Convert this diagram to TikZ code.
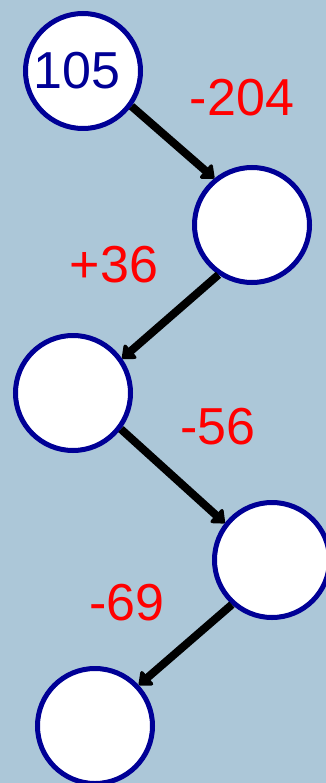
\documentclass[tikz,border=0pt]{standalone}
\usepackage{fontspec}
\setmainfont{Liberation Sans}
\usetikzlibrary{arrows.meta}
\definecolor{navyring}{RGB}{0,0,150}
\definecolor{dropbg}{RGB}{172,199,216}

\begin{document}
\begin{tikzpicture}[x=1pt,y=-1pt,
    ring/.style={circle,draw=navyring,line width=5pt,fill=white,minimum size=115pt,inner sep=0pt},
    oplabel/.style={text=red,inner sep=0pt,font=\fontsize{52}{52}\selectfont},
    link/.style={-{Triangle[length=13pt,width=21pt,round]},line width=8pt,black}]
% Background (water drops)
\useasboundingbox (0,0) rectangle (326,783);
\clip (0,0) rectangle (326,783);
\fill[dropbg] (0,0) rectangle (326,783);

% Chain of circles
\node[ring] (c1) at (83,71) {};
\node[ring] (c2) at (252,225) {};
\node[ring] (c3) at (73,393) {};
\node[ring] (c4) at (272,560) {};
\node[ring] (c5) at (95,726) {};
\node[text=navyring,inner sep=0pt,font=\fontsize{52}{52}\selectfont] (start) at (77,71) {105};

% Operations
\node[oplabel] (op1) at (242,98) {-204};
\node[oplabel] (op2) at (114,265) {+36};
\node[oplabel] (op3) at (218,427) {-56};
\node[oplabel] (op4) at (127,603) {-69};

% Arrows
\draw[link] (c1.-36) -- (c2.129);
\draw[link] (c2.236) -- (c3.35);
\draw[link] (c3.-37) -- (c4.142);
\draw[link] (c4.228) -- (c5.43);
\end{tikzpicture}
\end{document}
